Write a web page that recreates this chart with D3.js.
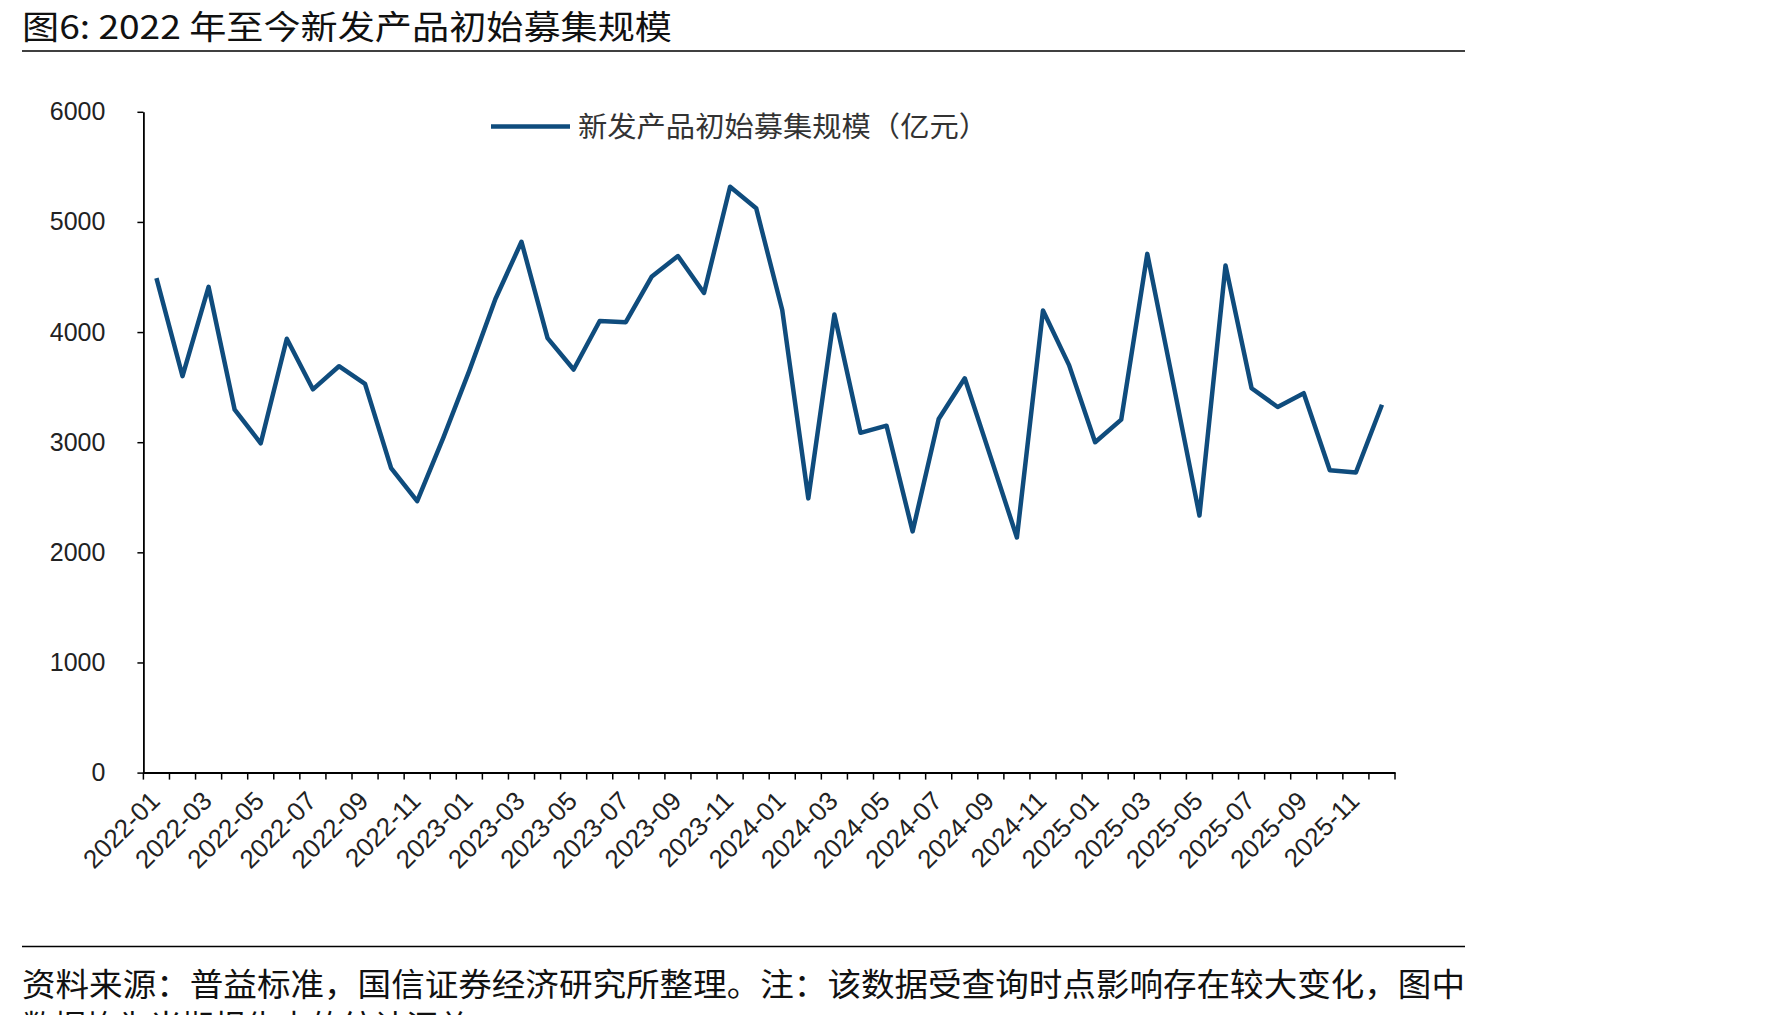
<!DOCTYPE html>
<html lang="zh">
<head>
    <meta charset="UTF-8"/>
    <title>图6</title>
    <script src="https://d3js.org/d3.v7.min.js"></script>
    <style>
        body { margin: 0; background: #fff; }
        svg { display: block; }
    </style>
</head>
<body>
    <div id="chart"></div>

    <script>
        // months on the x axis
        var months = [
            "2022-01", "2022-02", "2022-03", "2022-04", "2022-05", "2022-06",
            "2022-07", "2022-08", "2022-09", "2022-10", "2022-11", "2022-12",
            "2023-01", "2023-02", "2023-03", "2023-04", "2023-05", "2023-06",
            "2023-07", "2023-08", "2023-09", "2023-10", "2023-11", "2023-12",
            "2024-01", "2024-02", "2024-03", "2024-04", "2024-05", "2024-06",
            "2024-07", "2024-08", "2024-09", "2024-10", "2024-11", "2024-12",
            "2025-01", "2025-02", "2025-03", "2025-04", "2025-05", "2025-06",
            "2025-07", "2025-08", "2025-09", "2025-10", "2025-11", "2025-12"
        ];

        // 新发产品初始募集规模（亿元）
        var raised = [
            4490, 3600, 4410, 3295, 2990, 3940, 3480, 3690, 3530, 2765, 2465, 3040,
            3650, 4300, 4820, 3945, 3660, 4100, 4090, 4505, 4690, 4355, 5320, 5125,
            4200, 2490, 4160, 3085, 3150, 2190, 3210, 3580, 2860, 2135, 4195, 3700,
            3000, 3205, 4710, 3530, 2335, 4605, 3490, 3320, 3445, 2745, 2725, 3340
        ];

        var yTicks = [0, 1000, 2000, 3000, 4000, 5000, 6000];

        var seriesName = "新发产品初始募集规模（亿元）";
        var title = "图6: 2022 年至今新发产品初始募集规模";
        var source1 = "资料来源：普益标准，国信证券经济研究所整理。注：该数据受查询时点影响存在较大变化，图中";
        var source2 = "数据均为当期报告中的统计汇总";

        var w = 1771;
        var h = 1015;
        var lineColor = "#0f4c7d";
        var cjk = "'Noto Sans CJK SC', sans-serif";
        var latin = "'Liberation Sans', Arial, sans-serif";

        var svg = d3.select("#chart")
                    .append("svg")
                    .attr("width", w)
                    .attr("height", h);

        var xScale = d3.scaleBand()
                       .domain(months)
                       .range([143.4, 1395])
                       .padding(0);

        var yScale = d3.scaleLinear()
                       .domain([0, 6000])
                       .range([772.6, 111.8]);

        // title and rules
        svg.append("text")
           .attr("x", 22)
           .attr("y", 38.5)
           .attr("font-family", cjk)
           .attr("font-size", "33px")
           .attr("fill", "#111")
           .attr("textLength", 650)
           .attr("lengthAdjust", "spacingAndGlyphs")
           .text(title);

        svg.append("line")
           .attr("x1", 22).attr("x2", 1465)
           .attr("y1", 51).attr("y2", 51)
           .attr("stroke", "#000").attr("stroke-width", 1.5);

        svg.append("line")
           .attr("x1", 22).attr("x2", 1465)
           .attr("y1", 946.5).attr("y2", 946.5)
           .attr("stroke", "#000").attr("stroke-width", 1.5);

        svg.append("text")
           .attr("x", 22)
           .attr("y", 996)
           .attr("font-family", cjk)
           .attr("font-size", "32px")
           .attr("fill", "#111")
           .attr("textLength", 1443)
           .attr("lengthAdjust", "spacingAndGlyphs")
           .text(source1);

        // second line is cut by the bottom edge, as in the original
        svg.append("text")
           .attr("x", 22)
           .attr("y", 1038)
           .attr("font-family", cjk)
           .attr("font-size", "32px")
           .attr("fill", "#111")
           .text(source2);

        // y axis
        var yAxis = d3.axisLeft(yScale)
                      .tickValues(yTicks)
                      .tickFormat(d3.format("d"))
                      .tickSize(6)
                      .tickSizeOuter(0)
                      .tickPadding(32);

        var gy = svg.append("g")
                    .attr("transform", "translate(143.4,0)")
                    .call(yAxis);
        gy.select(".domain").attr("stroke", "#000").attr("stroke-width", 1.8);
        gy.selectAll(".tick line").attr("stroke", "#000").attr("stroke-width", 1.5);
        gy.selectAll(".tick text")
          .attr("font-family", latin)
          .attr("font-size", "25px")
          .attr("fill", "#222");

        // x axis: domain line, ticks on band edges
        var xAxis = d3.axisBottom(xScale)
                      .tickSize(0)
                      .tickSizeOuter(0)
                      .tickFormat("");

        var gx = svg.append("g")
                    .attr("transform", "translate(0," + yScale(0) + ")")
                    .call(xAxis);
        gx.select(".domain").attr("stroke", "#000").attr("stroke-width", 2);

        var edges = months.map(function(d) { return xScale(d); });
        edges.push(xScale.range()[1]);

        gx.selectAll("line.edge")
          .data(edges)
          .enter()
          .append("line")
          .attr("class", "edge")
          .attr("x1", function(d) { return d; })
          .attr("x2", function(d) { return d; })
          .attr("y1", 0)
          .attr("y2", 7)
          .attr("stroke", "#000")
          .attr("stroke-width", 1.5);

        var half = xScale.bandwidth() / 2;

        gx.selectAll("text.lab")
          .data(months.filter(function(d, i) { return i % 2 === 0; }))
          .enter()
          .append("text")
          .attr("class", "lab")
          .attr("text-anchor", "end")
          .attr("font-family", latin)
          .attr("font-size", "26px")
          .attr("fill", "#222")
          .attr("transform", function(d) {
              return "translate(" + (xScale(d) + half + 5) + ",30) rotate(-45)";
          })
          .text(function(d) { return d; });

        // the series
        var line = d3.line()
                     .x(function(d, i) { return xScale(months[i]) + half; })
                     .y(function(d) { return yScale(d); });

        svg.append("path")
           .datum(raised)
           .attr("d", line)
           .attr("fill", "none")
           .attr("stroke", lineColor)
           .attr("stroke-width", 4.5)
           .attr("stroke-linejoin", "round");

        // legend
        svg.append("line")
           .attr("x1", 491).attr("x2", 570)
           .attr("y1", 126.5).attr("y2", 126.5)
           .attr("stroke", lineColor)
           .attr("stroke-width", 4.5);

        svg.append("text")
           .attr("x", 578)
           .attr("y", 137)
           .attr("font-family", cjk)
           .attr("font-size", "28px")
           .attr("fill", "#333")
           .attr("textLength", 410)
           .attr("lengthAdjust", "spacingAndGlyphs")
           .text(seriesName);
    </script>
</body>
</html>
